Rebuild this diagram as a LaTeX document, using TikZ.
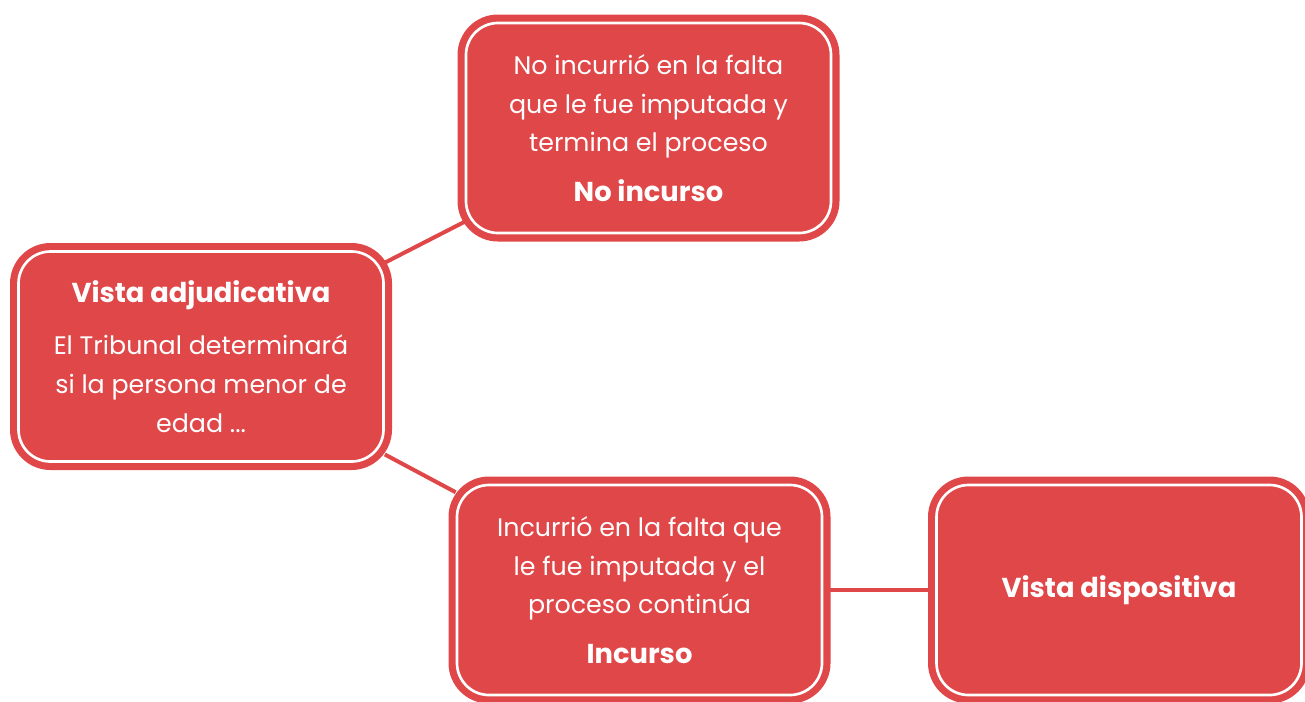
\documentclass[tikz,border=0pt]{standalone}
\usepackage{fontspec}
\setmainfont{Poppins}
\usetikzlibrary{backgrounds}
\definecolor{boxred}{RGB}{224,71,73}
\newcommand{\headtext}[1]{{\fontsize{20.5}{29}\selectfont\textbf{#1}}}
\tikzset{
  stagebox/.style={rectangle, rounded corners=24pt, fill=boxred, draw=white, line width=2pt,
    preaction={draw=boxred, line width=12.75pt},
    minimum width=273.75pt, minimum height=157.5pt, align=center, text=white,
    font=\fontsize{19}{29}\selectfont},
  link/.style={draw=boxred, line width=3pt}
}
\begin{document}
\begin{tikzpicture}[x=0.75pt,y=-0.75pt]
    \useasboundingbox (0,0) rectangle (1305,701);
    \node[stagebox] (adjud) at (201,356.5) {\headtext{Vista adjudicativa}\\[10pt]El Tribunal determinará\\si la persona menor de\\edad ...};
    \node[stagebox] (noinc) at (648.5,128) {No incurrió en la falta\\que le fue imputada y\\termina el proceso\\[8pt]\headtext{No incurso}};
    \node[stagebox] (inc) at (639.5,590) {Incurrió en la falta que\\le fue imputada y el\\proceso continúa\\[8pt]\headtext{Incurso}};
    \node[stagebox] (dispo) at (1119,590) {\headtext{Vista dispositiva}};
    \begin{scope}[on background layer]
        \draw[link] (adjud) -- (noinc);
        \draw[link] (adjud) -- (inc);
        \draw[link] (inc) -- (dispo);
    \end{scope}
\end{tikzpicture}
\end{document}
